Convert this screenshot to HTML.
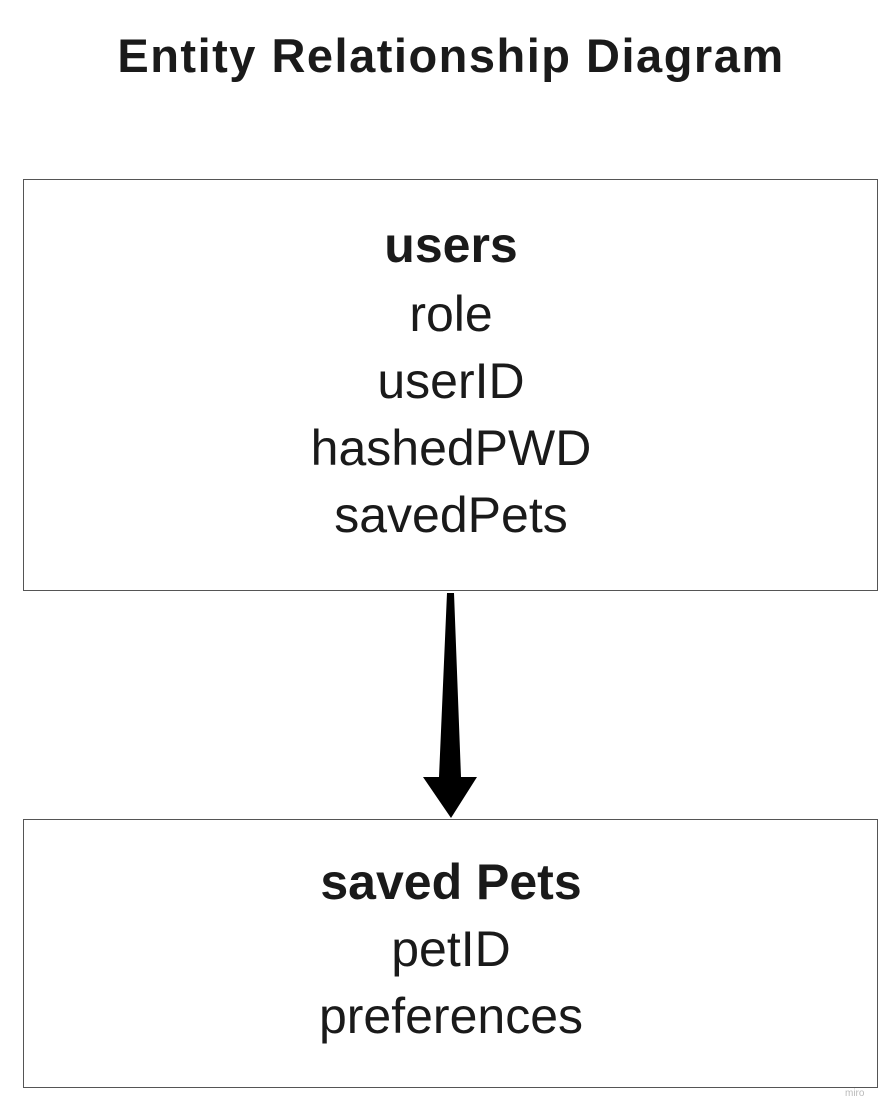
<!DOCTYPE html>
<html><head><style>
body{margin:0;width:894px;height:1118px;background:#fff;position:relative;overflow:hidden;font-family:"Liberation Sans",sans-serif;color:#1a1a1a}
.t{position:absolute;left:0;width:902px;text-align:center}
.box{position:absolute;left:23px;width:855px;border:1px solid #555;box-sizing:border-box}
.l{position:absolute;left:0;width:902px;text-align:center;font-size:50px;line-height:66px}
</style></head><body>
<div class="t" style="top:28px;font-size:47px;font-weight:bold;line-height:56px;letter-spacing:1.5px">Entity Relationship Diagram</div>
<div class="box" style="top:179px;height:412px"></div>
<div class="box" style="top:819px;height:269px"></div>
<div class="l" style="top:212px;font-weight:bold">users</div>
<div class="l" style="top:281px">role</div>
<div class="l" style="top:348px">userID</div>
<div class="l" style="top:415px">hashedPWD</div>
<div class="l" style="top:482px">savedPets</div>
<div class="l" style="top:849px;font-weight:bold">saved Pets</div>
<div class="l" style="top:916px">petID</div>
<div class="l" style="top:983px">preferences</div>
<svg style="position:absolute;left:0;top:0" width="894" height="1118">
<polygon points="447,593 454,593 461,777 477,777 451,818 423,777 439,777" fill="#000"/>
</svg>
<div style="position:absolute;left:845px;top:1088px;font-size:10px;color:#bbb">miro</div>
</body></html>
